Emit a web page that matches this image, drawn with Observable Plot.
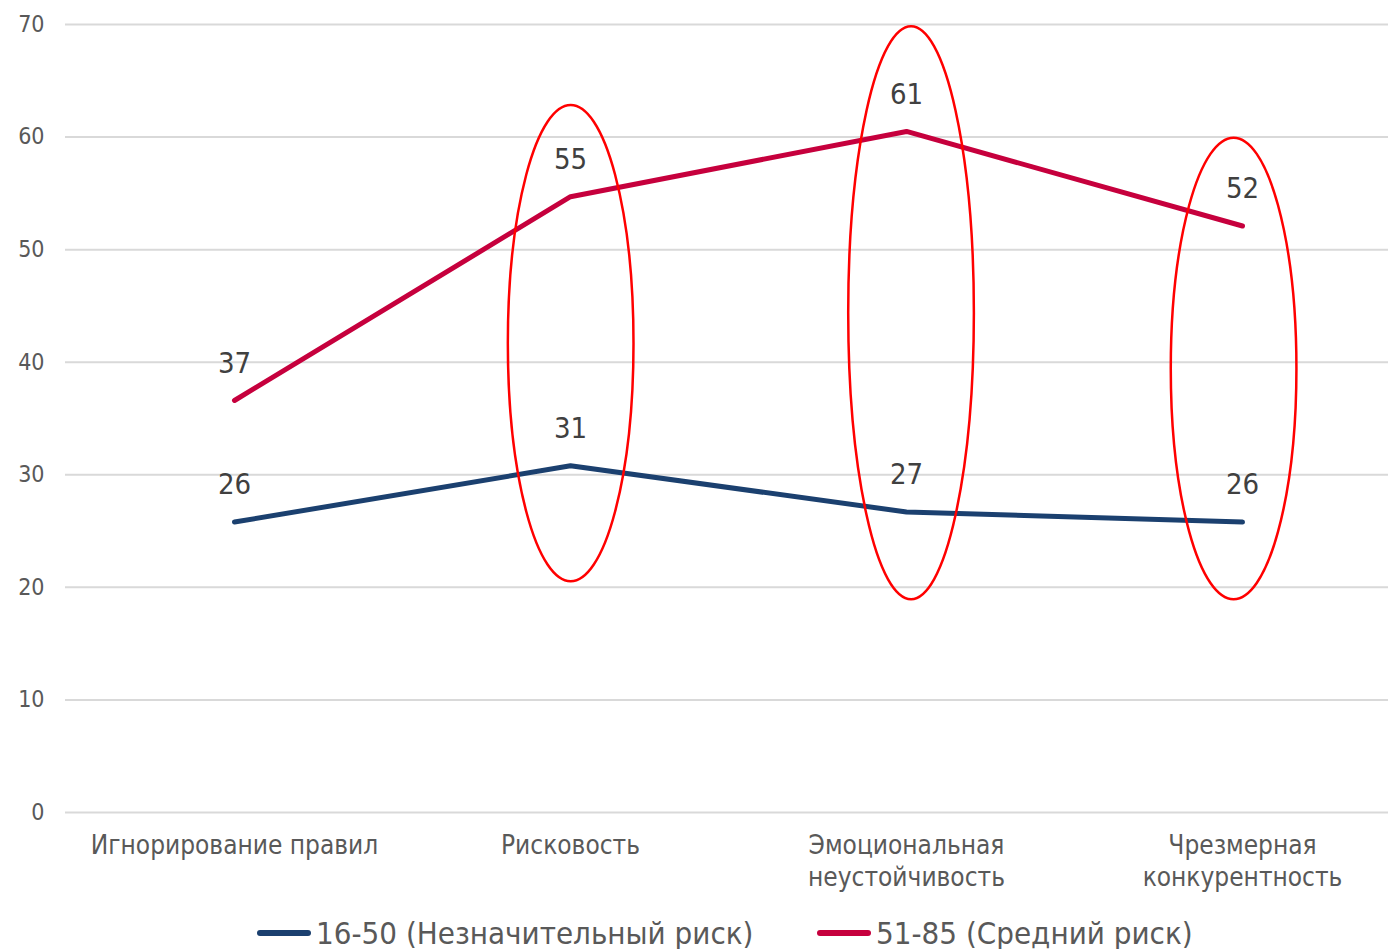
<!DOCTYPE html>
<html>
<head>
<meta charset="utf-8">
<script src="https://cdn.jsdelivr.net/npm/d3@7"></script>
<script src="https://cdn.jsdelivr.net/npm/@observablehq/plot@0.6"></script>
<style>
  html, body { margin: 0; padding: 0; background: #fff; overflow: hidden; }
  body { font-family: "DejaVu Sans Condensed", "DejaVu Sans", sans-serif; position: relative; width: 1388px; height: 949px; }
  .legend-item { position: absolute; top: 912px; height: 42px; display: flex; align-items: center; font-size: 31px; color: #595959; white-space: nowrap; }
  .legend-swatch { width: 54px; height: 6px; border-radius: 3px; margin-right: 5px; }
</style>
</head>
<body>
<div id="chart"></div>
<div id="legend"></div>
<script>
// Traits on the horizontal axis
const categories = [
  "Игнорирование правил",
  "Рисковость",
  "Эмоциональная\nнеустойчивость",
  "Чрезмерная\nконкурентность"
];

// Two risk groups
const seriesNames = ["16-50 (Незначительный риск)", "51-85 (Средний риск)"];
const lowRisk = [25.8, 30.8, 26.7, 25.8];
const mediumRisk = [36.6, 54.7, 60.5, 52.1];
const seriesColors = ["#1B406F", "#C6003D"];

// Value axis ticks
const yTicks = [0, 10, 20, 30, 40, 50, 60, 70];

// Highlighted traits, each circled by an ellipse spanning this value range
const highlighted = [categories[1], categories[2], categories[3]];
const highlightTop = [62.8, 69.8, 59.9];
const highlightBottom = [20.5, 18.9, 18.9];

const rows = categories.flatMap((c, i) => [
  {category: c, series: seriesNames[0], value: lowRisk[i]},
  {category: c, series: seriesNames[1], value: mediumRisk[i]}
]);

// small horizontal nudges of the ellipses, in category steps
const ellipseShift = [0.002, 0.015, -0.025];
const ellipseHalfWidth = 0.187;

function highlightEllipses(index, scales) {
  const x = scales.x, y = scales.y;
  const step = x(categories[1]) - x(categories[0]);
  const g = d3.create("svg:g")
    .attr("fill", "none")
    .attr("stroke", "#FF0000")
    .attr("stroke-width", 2.5);
  highlighted.forEach((c, i) => {
    const top = y(highlightTop[i]);
    const bottom = y(highlightBottom[i]);
    g.append("ellipse")
      .attr("cx", x(c) + ellipseShift[i] * step)
      .attr("cy", (top + bottom) / 2)
      .attr("rx", ellipseHalfWidth * step)
      .attr("ry", (bottom - top) / 2);
  });
  return g.node();
}

const chart = Plot.plot({
  width: 1388,
  height: 900,
  marginTop: 24,
  marginBottom: 88,
  marginLeft: 65,
  marginRight: -23,
  style: {
    fontFamily: '"DejaVu Sans Condensed", "DejaVu Sans", sans-serif',
    background: "#fff",
    overflow: "hidden"
  },
  x: {type: "point", domain: categories, padding: 0.5},
  y: {domain: [0, 70]},
  color: {domain: seriesNames, range: seriesColors},
  marks: [
    Plot.gridY(yTicks, {stroke: "#d9d9d9", strokeOpacity: 1, strokeWidth: 2}),
    Plot.axisY(yTicks, {tickSize: 0, tickPadding: 21, fontSize: 23, fill: "#595959", label: null}),
    Plot.axisX({tickSize: 0, tickPadding: 19, fontSize: 26, fill: "#595959", lineHeight: 1.23, label: null}),
    Plot.lineY(rows, {
      x: "category", y: "value", z: "series", stroke: "series",
      strokeWidth: 5, strokeLinecap: "round"
    }),
    Plot.text(rows, {
      x: "category", y: "value",
      text: d => String(Math.round(d.value)),
      dy: -37, fontSize: 29, fill: "#404040"
    }),
    highlightEllipses
  ]
});
document.getElementById("chart").appendChild(chart);

// Legend below the chart
const legend = document.getElementById("legend");
const legendLeft = [257, 817];
seriesNames.forEach((name, i) => {
  const item = document.createElement("div");
  item.className = "legend-item";
  item.style.left = legendLeft[i] + "px";
  const sw = document.createElement("span");
  sw.className = "legend-swatch";
  sw.style.background = seriesColors[i];
  const label = document.createElement("span");
  label.textContent = name;
  item.appendChild(sw);
  item.appendChild(label);
  legend.appendChild(item);
});
</script>
</body>
</html>
